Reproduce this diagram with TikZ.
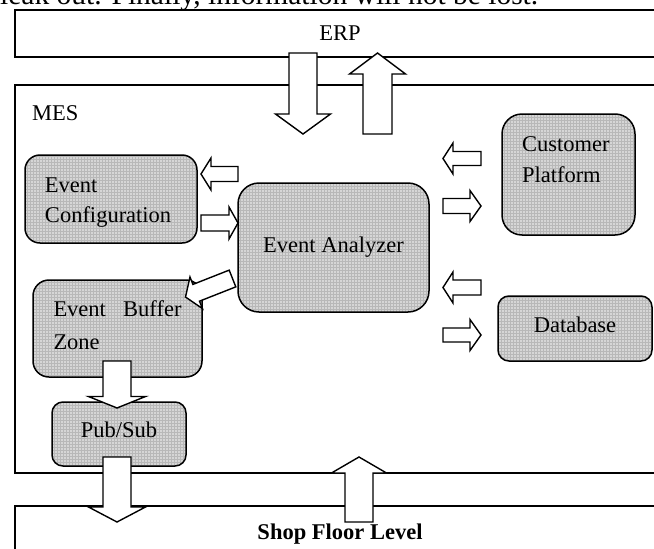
\documentclass[tikz,border=0pt]{standalone}
\usepackage{fontspec}
\setmainfont{Liberation Serif}
\usetikzlibrary{patterns}

\tikzset{
  pics/fatarrow/.style n args={4}{code={%
    \draw[arrowline] (0,-#2) -- ({#1-#4},-#2) -- ({#1-#4},-#3) -- (#1,0)
      -- ({#1-#4},#3) -- ({#1-#4},#2) -- (0,#2) -- cycle;
  }},
}

\begin{document}
\begin{tikzpicture}[
    x=1pt, y=-1pt,
    every node/.style={font=\fontsize{22.5}{30}\selectfont},
    layer/.style={rectangle, draw, line width=1.5pt, minimum width=650pt, inner sep=0pt},
    box/.style={rectangle, draw, rounded corners=#1, line width=1.5pt, inner sep=0pt,
                preaction={fill=black!16}, pattern=grid, pattern color=black!28},
    box/.default=12pt,
    arrowline/.style={draw, fill=white, line width=1.4pt, line join=miter},
]
  \useasboundingbox (0,0) rectangle (654,549);
  \clip (0,0) rectangle (654,549);

  % running text of the page, cut at the top
  \node[font=\fontsize{29.5}{35}\selectfont, anchor=base west, inner sep=0pt] (pagetext)
    at (0,4.5) {leak out. Finally, information will not be lost.};

  % Levels
  \node[layer, minimum height=47pt] (erp) at (340,33.5) {ERP};
  \node[layer, minimum height=388pt] (mes) at (340,279) {};
  \node[anchor=base west, inner sep=0pt] (meslabel) at (32,120) {MES};
  \node[layer, minimum height=70pt] (shop) at (340,541) {};
  \node[font=\fontsize{22.5}{30}\selectfont\bfseries, anchor=base, inner sep=0pt] (shoplabel)
    at (340,539) {Shop Floor Level};

  % MES modules
  \node[box=15pt, minimum width=172pt, minimum height=88pt, text width=132pt, align=left,
        text height=21pt] (config) at (111,199) {Event\\Configuration};
  \node[box=21pt, minimum width=191pt, minimum height=129pt] (analyzer) at (333.5,247.5) {Event Analyzer};
  \node[box=20pt, minimum width=133pt, minimum height=121pt, text width=93pt, align=left,
        font=\fontsize{22.5}{31}\selectfont, text depth=60pt] (customer) at (568.5,174.5) {Customer\\Platform};
  \node[box=11pt, minimum width=154pt, minimum height=65pt, text depth=8.4pt] (database) at (575,328.5) {Database};
  \node[box=16pt, minimum width=169pt, minimum height=97pt, text width=128pt, align=left,
        font=\fontsize{22.5}{33}\selectfont, text depth=40.4pt] (buffer) at (117.5,328.5)
        {\hbox to 128pt{Event\hfill Buffer}\\Zone};
  \node[box=11pt, minimum width=134pt, minimum height=64pt, text depth=9pt] (pubsub) at (119,434) {Pub/Sub};

  % ERP <-> MES
  \pic[rotate=-90] at (303,53) {fatarrow={81}{14}{27.5}{20}};
  \pic[rotate=90] at (377.5,134) {fatarrow={81}{14.5}{28}{21}};

  % Event Analyzer <-> Event Configuration
  \pic[rotate=180] at (238,174) {fatarrow={37}{7.5}{16}{10}};
  \pic at (201,223) {fatarrow={37}{8}{16}{9}};

  % Event Analyzer <-> Customer Platform
  \pic[rotate=180] at (481,158.5) {fatarrow={38}{7}{15.5}{10}};
  \pic at (443,206) {fatarrow={38}{7.5}{15.5}{11}};

  % Event Analyzer <-> Database
  \pic[rotate=180] at (481,287.5) {fatarrow={38}{7.5}{15.5}{10}};
  \pic at (443,335) {fatarrow={38}{7}{15.5}{11}};

  % Event Analyzer -> Event Buffer Zone -> Pub/Sub -> Shop Floor Level
  \pic[rotate=-158.5] at (232.5,278.5) {fatarrow={50.5}{9}{17}{11.5}};
  \pic[rotate=-90] at (117,361) {fatarrow={47}{14}{28.5}{11.5}};
  \pic[rotate=-90] at (117,457) {fatarrow={65}{14}{28.5}{15}};

  % Shop Floor Level -> MES
  \pic[rotate=90] at (359,522) {fatarrow={65}{14}{27.5}{16}};
\end{tikzpicture}
\end{document}
